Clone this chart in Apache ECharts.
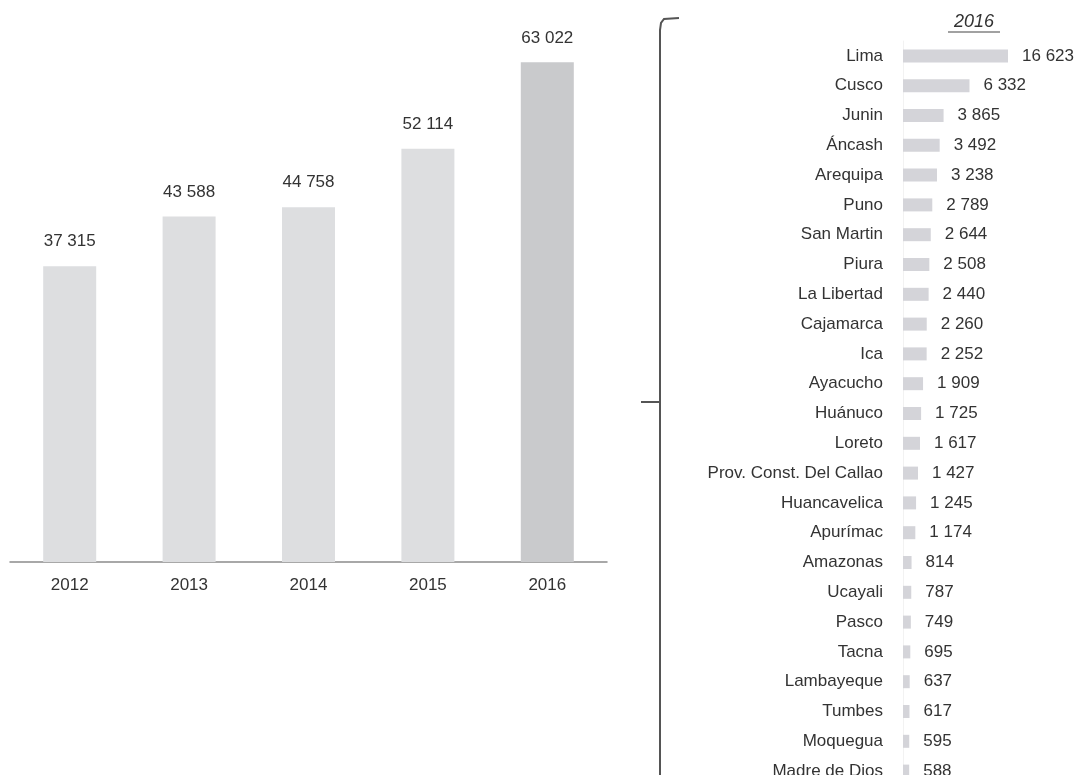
<!DOCTYPE html>
<html>
<head>
<meta charset="utf-8">
<script src="https://cdn.jsdelivr.net/npm/echarts@6/dist/echarts.min.js"></script>
<style>
  html, body { margin: 0; padding: 0; background: #fff; }
  #chart { width: 1077px; height: 775px; }
</style>
</head>
<body>
<div id="chart"></div>
<script>
// ---- Data ----
const years = ['2012', '2013', '2014', '2015', '2016'];
const yearValues = [37315, 43588, 44758, 52114, 63022];

const regionTitle = '2016';
const regions = ['Lima', 'Cusco', 'Junin', 'Áncash', 'Arequipa', 'Puno', 'San Martin', 'Piura',
  'La Libertad', 'Cajamarca', 'Ica', 'Ayacucho', 'Huánuco', 'Loreto', 'Prov. Const. Del Callao',
  'Huancavelica', 'Apurímac', 'Amazonas', 'Ucayali', 'Pasco', 'Tacna', 'Lambayeque', 'Tumbes',
  'Moquegua', 'Madre de Dios'];
const regionValues = [16623, 6332, 3865, 3492, 3238, 2789, 2644, 2508, 2440, 2260, 2252, 1909,
  1725, 1617, 1427, 1245, 1174, 814, 787, 749, 695, 637, 617, 595, 588];

// ---- Helpers ----
const fmt = v => String(v).replace(/\B(?=(\d{3})+(?!\d))/g, ' ');
const FONT = "'Liberation Sans', Arial, sans-serif";
const TXT = '#333333';

const chart = echarts.init(document.getElementById('chart'), null, { renderer: 'canvas' });

const option = {
  animation: false,
  backgroundColor: '#ffffff',
  textStyle: { fontFamily: FONT },
  grid: [
    { left: 10, top: 7, width: 597, bottom: 213, containLabel: false, outerBoundsMode: 'none' },
    { left: 903, top: 41, width: 105, height: 745, containLabel: false, outerBoundsMode: 'none' }
  ],
  xAxis: [
    {
      gridIndex: 0, type: 'category', data: years,
      axisLine: { lineStyle: { color: '#8c8c8c', width: 1.5 } },
      axisTick: { show: false },
      axisLabel: { color: TXT, fontSize: 17, fontFamily: FONT, margin: 15 }
    },
    {
      gridIndex: 1, type: 'value', min: 0, max: 10000,
      show: false, splitLine: { show: false }
    }
  ],
  yAxis: [
    {
      gridIndex: 0, type: 'value', min: 0, max: 70000,
      show: false, splitLine: { show: false }
    },
    {
      gridIndex: 1, type: 'category', data: regions, inverse: true,
      axisLine: { show: true, lineStyle: { color: '#f2f2f2', width: 1 } },
      axisTick: { show: false },
      axisLabel: { color: TXT, fontSize: 17, fontFamily: FONT, margin: 20 }
    }
  ],
  series: [
    {
      type: 'bar', xAxisIndex: 0, yAxisIndex: 0,
      data: yearValues.map((v, i) => ({
        value: v,
        itemStyle: { color: i === yearValues.length - 1 ? '#c9cacc' : '#dddee0' }
      })),
      barWidth: 53,
      label: {
        show: true, position: 'top', distance: 16,
        color: TXT, fontSize: 17, fontFamily: FONT,
        formatter: p => fmt(p.value)
      }
    },
    {
      type: 'bar', xAxisIndex: 1, yAxisIndex: 1,
      data: regionValues,
      barWidth: 13,
      clip: true,
      itemStyle: { color: '#d4d4d9' },
      label: {
        show: true, position: 'right', distance: 14,
        color: TXT, fontSize: 17, fontFamily: FONT,
        formatter: p => fmt(p.value)
      }
    }
  ],
  graphic: [
    {
      type: 'text', x: 974, y: 22,
      style: {
        text: regionTitle, fill: TXT, font: "italic 18px 'Liberation Sans', Arial, sans-serif",
        textAlign: 'center', textVerticalAlign: 'middle'
      }
    },
    { type: 'line', shape: { x1: 948, y1: 32, x2: 1000, y2: 32 }, style: { stroke: '#444', lineWidth: 1.2 } },
    // bracket
    {
      type: 'polyline',
      shape: { points: [[679, 18], [664, 19], [661, 23], [660, 30], [660, 775]] },
      style: { stroke: '#555', lineWidth: 2, fill: null }
    },
    { type: 'line', shape: { x1: 641, y1: 402, x2: 660, y2: 402 }, style: { stroke: '#555', lineWidth: 2 } }
  ]
};

chart.setOption(option);
</script>
</body>
</html>
